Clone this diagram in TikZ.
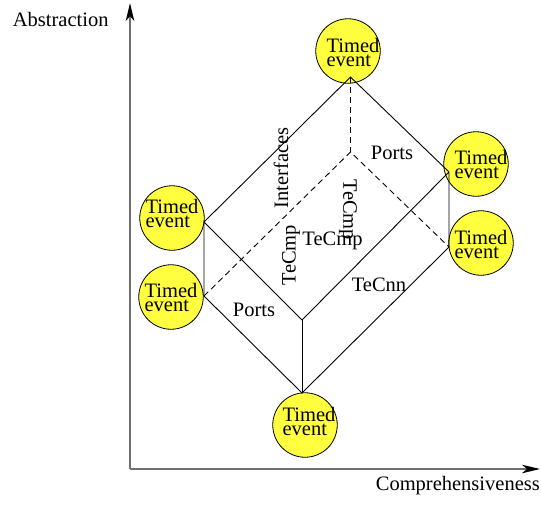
\documentclass[tikz,border=0pt]{standalone}
\usepackage{fontspec}
\setmainfont{Liberation Serif}
\usepackage{xcolor}
\usepackage{tikz}
\usetikzlibrary{arrows.meta}
\definecolor{evyellow}{RGB}{255,255,64}
\definecolor{axisgray}{RGB}{112,112,112}

\begin{document}
\begin{tikzpicture}[x=1pt, y=-1pt, font=\fontsize{20.5}{14}\selectfont,
    tevent/.style={circle, draw=black, fill=evyellow, line width=0.8pt, minimum size=64.5pt, inner sep=0pt},
    evtext/.style={inner sep=0pt, align=left},
    edge/.style={line width=0.9pt},
    hidden/.style={edge, dash pattern=on 6pt off 4pt},
    axis/.style={line width=2pt, color=axisgray, -{Stealth[length=18pt, width=8.5pt, inset=5pt, color=black]}}]
          \useasboundingbox (0,0) rectangle (541,504);

          \coordinate (o) at (130,469);
          \coordinate (ytip) at (130,3);
          \coordinate (xtip) at (540,469);
          \draw [axis] (o) -- (ytip);
          \draw [axis] (o) -- (xtip);
          \node[anchor=base west, inner sep=0pt] (abs) at (12.7,26.7) {Abstraction};
          \node[anchor=base east, inner sep=0pt] (comp) at (540,490) {Comprehensiveness};

          \foreach \x/\y/\n/\dx/\dy in {348/51/top/5/1, 476/164/ru/5/0, 481/243/rl/0/1,
              172/218/lu/0/-5, 171/297/ll/0/0, 305/425/bot/4/-4}{%
            \node[tevent] (\n) at (\x,\y) {};
            \node[evtext] (\n txt) at (\x+\dx,\y+\dy) {Timed\\event};
          }
          \foreach \x/\y/\n in {350.5/77/vt, 350.5/152/vc, 204/222/vlu, 204/296/vll, 302/320/vm, 302/393/vb, 449/172/vru, 449/247/vrl}{%
            \coordinate (\n) at (\x,\y);
          }

          \draw [edge] (vlu) -- (vt) -- (vru) -- (vrl) -- (vb) -- (vll) -- (vlu) -- (vm) -- (vru);
          \draw [edge] (vm) -- (vb);
          \draw [hidden] (vt) -- (vc);
          \draw [hidden] (vll) -- (vc) -- (vrl);

          \node[rotate=90] (ifc) at (281,168) {Interfaces};
          \node (portsup) at (392,153) {Ports};
          \node[rotate=-90] (cmpr) at (348,210) {TeCmp};
          \node (cmph) at (332.5,241) {TeCmp};
          \node[rotate=90] (cmpl) at (291,255) {TeCmp};
          \node (cnn) at (379,285) {TeCnn};
          \node (portslo) at (254,310) {Ports};
        \end{tikzpicture}
\end{document}
